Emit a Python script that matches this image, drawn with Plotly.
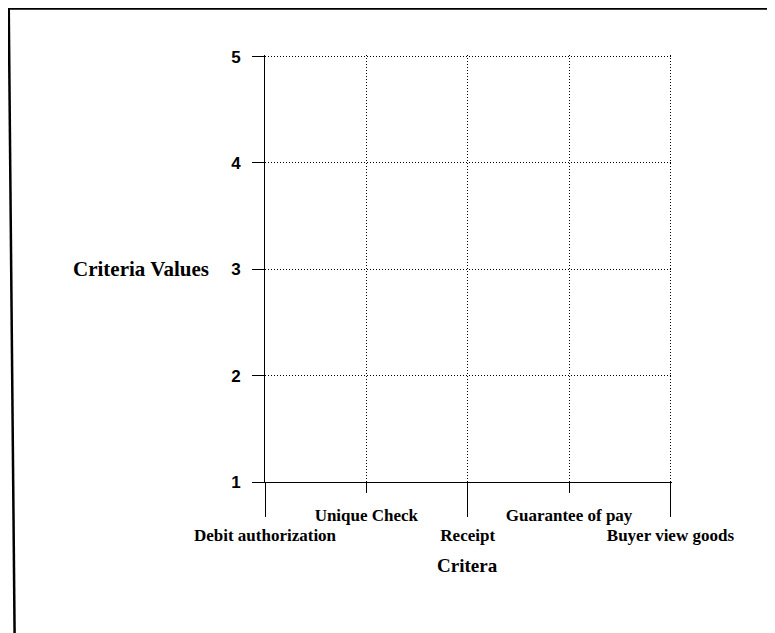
import plotly.graph_objects as go

categories = ["Debit authorization", "Unique Check", "Receipt", "Guarantee of pay", "Buyer view goods"]
y_ticks = [1, 2, 3, 4, 5]
y_title = "Criteria Values"
x_title = "Critera"

even_cats = categories[0::2]
odd_cats = categories[1::2]

OFF = 8  # page body margin
EXTRA = 1.6  # px of slack so edge gridlines are still drawn
W, H = 775 - OFF, 633 - OFF
L, T = 265 - OFF, 57 - OFF - EXTRA
R = W - (670 - OFF) - EXTRA
B = H - (482 - OFF)
pw, ph = W - L - R, H - T - B

nx = len(categories) - 1
ny = y_ticks[-1] - y_ticks[0]
x_range = [0, nx + nx * EXTRA / (pw - EXTRA)]
y_range = [y_ticks[0], y_ticks[-1] + ny * EXTRA / (ph - EXTRA)]

def px(x):  # page pixel -> paper
    return (x - OFF - L) / pw

def py(y):
    return (H - B - (y - OFF)) / ph

serif = "Liberation Serif"
sans = "Liberation Sans"
DOT = "1px,2px"

fig = go.Figure()
# invisible traces establish category axes (chart has no plotted values)
fig.add_trace(go.Scatter(x=categories, y=[None] * len(categories), mode="markers",
                         xaxis="x", yaxis="y", showlegend=False, hoverinfo="skip"))
fig.add_trace(go.Scatter(x=categories, y=[None] * len(categories), mode="markers",
                         xaxis="x2", yaxis="y", showlegend=False, hoverinfo="skip"))

common_x = dict(type="category", categoryorder="array", categoryarray=categories,
                range=x_range, showgrid=True, gridcolor="black",
                griddash=DOT, gridwidth=1, zeroline=False, ticks="outside",
                tickcolor="black", tickwidth=1, fixedrange=True)

fig.update_layout(
    width=W, height=H,
    margin=dict(l=L, r=R, t=T, b=B, pad=0),
    paper_bgcolor="white", plot_bgcolor="white",
    xaxis=dict(**common_x, tickmode="array", tickvals=even_cats, ticktext=even_cats,
               ticklen=34, ticklabelstandoff=4,
               tickfont=dict(family=serif, size=17, color="black", weight="bold"),
               showline=True, linecolor="black", linewidth=1),
    xaxis2=dict(**common_x, overlaying="x", side="bottom", tickmode="array",
                tickvals=odd_cats, ticktext=odd_cats, ticklen=10, ticklabelstandoff=8,
                tickfont=dict(family=serif, size=17, color="black", weight="bold"),
                showline=False),
    yaxis=dict(range=y_range, tickmode="array", tickvals=y_ticks,
               ticks="outside", ticklen=12, tickcolor="black", ticklabelstandoff=8,
               tickfont=dict(family=sans, size=17, color="black", weight="bold"),
               showgrid=True, gridcolor="black", griddash=DOT, gridwidth=1,
               zeroline=False, showline=True, linecolor="black", linewidth=1,
               fixedrange=True),
    showlegend=False,
)

fig.add_annotation(text=y_title, xref="paper", yref="paper", x=px(211), y=py(269),
                   xanchor="right", yanchor="middle", showarrow=False,
                   font=dict(family=serif, size=21, color="black", weight="bold"))
fig.add_annotation(text=x_title, xref="paper", yref="paper", x=px(467), y=py(565),
                   xanchor="center", yanchor="middle", showarrow=False,
                   font=dict(family=serif, size=19, color="black", weight="bold"))

# outer frame (top and left edges as in the scanned figure)
fig.add_shape(type="line", xref="paper", yref="paper", x0=px(8), x1=px(790),
              y0=py(9), y1=py(9), line=dict(color="black", width=2.5))
fig.add_shape(type="line", xref="paper", yref="paper", x0=px(9), x1=px(15),
              y0=py(9), y1=py(650), line=dict(color="black", width=2.5))

fig.write_html("out.html")
